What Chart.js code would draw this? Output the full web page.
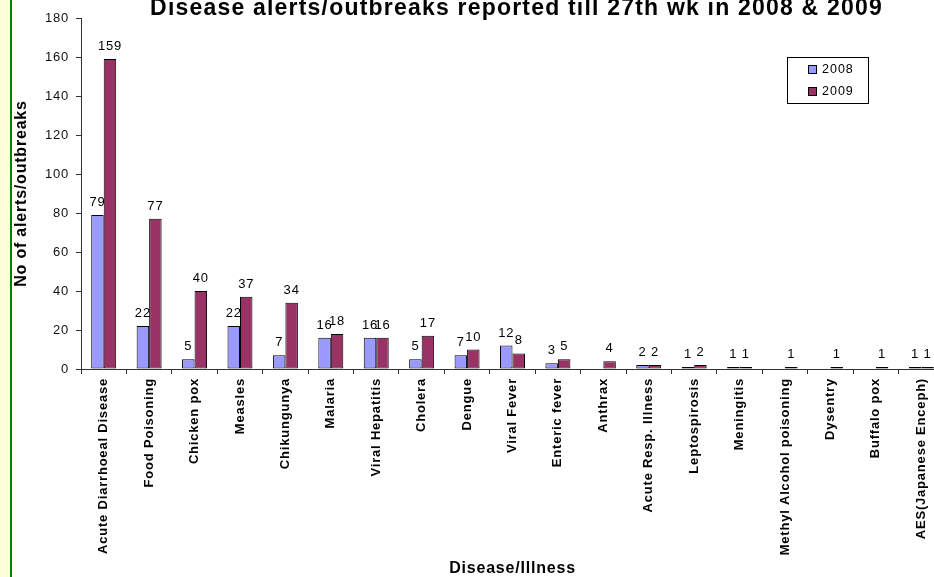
<!DOCTYPE html>
<html lang="en">
<head>
  <meta charset="UTF-8">
  <title>Disease alerts/outbreaks reported till 27th wk in 2008 &amp; 2009</title>
  <style>
    html, body { margin: 0; padding: 0; background: #fff; overflow: hidden; width: 934px; height: 577px; }
    #strip { position: absolute; left: 0; top: 0; width: 10px; height: 577px; background: #ffffdc; border-right: 2px solid #008000; }
    #wrap { position: absolute; left: 12px; top: 0; width: 940px; height: 577px; }
  </style>
</head>
<body>
  <div id="strip"></div>
  <div id="wrap"><canvas id="chart" width="940" height="577"></canvas></div>

  <script src="https://cdn.jsdelivr.net/npm/chart.js"></script>
  <script>
    const chartTitle = 'Disease alerts/outbreaks reported till 27th wk in 2008 & 2009';
    const diseases = [
      'Acute Diarrhoeal Disease', 'Food Poisoning', 'Chicken pox', 'Measles', 'Chikungunya',
      'Malaria', 'Viral Hepatitis', 'Cholera', 'Dengue', 'Viral Fever', 'Enteric fever',
      'Anthrax', 'Acute Resp. Illness', 'Leptospirosis', 'Meningitis',
      'Methyl Alcohol poisoning', 'Dysentry', 'Buffalo pox', 'AES(Japanese Enceph)'
    ];
    const cases2008 = [79, 22, 5, 22, 7, 16, 16, 5, 7, 12, 3, 0, 2, 1, 1, 0, 0, 0, 1];
    const cases2009 = [159, 77, 40, 37, 34, 18, 16, 17, 10, 8, 5, 4, 2, 2, 1, 1, 1, 1, 1];
    const yMin = 0, yMax = 180, yStep = 20;

    const FONT = "'Liberation Sans', Arial, sans-serif";

    // old Excel text renders wider than canvas Arial, so add a bit of spacing
    const spacing = {
      id: 'spacing',
      beforeLayout(chart) { chart.ctx.letterSpacing = '0.8px'; },
      beforeDraw(chart) { chart.ctx.letterSpacing = '0.8px'; }
    };

    const extras = {
      id: 'extras',
      afterDatasetsDraw(chart) {
        const ctx = chart.ctx;
        ctx.save();
        ctx.font = '13px ' + FONT;
        ctx.fillStyle = '#000';
        ctx.textAlign = 'center';
        ctx.textBaseline = 'alphabetic';
        chart.data.datasets.forEach((ds, i) => {
          chart.getDatasetMeta(i).data.forEach((bar, j) => {
            const v = ds.data[j];
            if (!v) return;
            ctx.fillText(String(v), bar.x, bar.y - 9);
          });
        });
        ctx.restore();
      },
      afterDraw(chart) {
        const ctx = chart.ctx;
        const area = chart.chartArea;

        // title, centred over the plot
        ctx.save();
        ctx.letterSpacing = '1.2px';
        ctx.font = 'bold 23px ' + FONT;
        ctx.fillStyle = '#000';
        ctx.textAlign = 'center';
        ctx.textBaseline = 'alphabetic';
        ctx.fillText(chartTitle, (area.left + area.right) / 2 + 4, 15);
        ctx.restore();

        // boxed legend inside the plot, top right
        const bx = area.right - 157, by = area.top + 39, bw = 81, bh = 46;
        ctx.save();
        ctx.fillStyle = '#fff';
        ctx.fillRect(bx, by, bw, bh);
        ctx.strokeStyle = '#000';
        ctx.lineWidth = 1;
        ctx.strokeRect(bx + 0.5, by + 0.5, bw, bh);
        ctx.letterSpacing = '1px';
        ctx.font = '12.5px ' + FONT;
        ctx.textAlign = 'left';
        ctx.textBaseline = 'middle';
        chart.data.datasets.forEach((ds, i) => {
          const cy = by + 12 + i * 22;
          ctx.fillStyle = ds.backgroundColor;
          ctx.fillRect(bx + 21, cy - 4, 9, 9);
          ctx.strokeRect(bx + 21.5, cy - 3.5, 8, 8);
          ctx.fillStyle = '#000';
          ctx.fillText(ds.label, bx + 35, cy + 1);
        });
        ctx.restore();
      }
    };

    new Chart(document.getElementById('chart'), {
      type: 'bar',
      data: {
        labels: diseases,
        datasets: [
          {
            label: '2008',
            data: cases2008,
            backgroundColor: '#9999ff',
            borderColor: '#000',
            borderWidth: 1,
            borderSkipped: false,
            categoryPercentage: 0.55,
            barPercentage: 1
          },
          {
            label: '2009',
            data: cases2009,
            backgroundColor: '#993366',
            borderColor: '#000',
            borderWidth: 1,
            borderSkipped: false,
            categoryPercentage: 0.55,
            barPercentage: 1
          }
        ]
      },
      options: {
        responsive: false,
        animation: false,
        devicePixelRatio: 1,
        layout: { padding: { top: 18, right: 8, left: 0, bottom: 0 } },
        plugins: {
          legend: { display: false },
          title: { display: false },
          tooltip: { enabled: false }
        },
        scales: {
          x: {
            grid: { offset: true, drawOnChartArea: false, drawTicks: true, tickLength: 5, color: '#333' },
            border: { color: '#333', width: 1 },
            ticks: {
              autoSkip: false,
              minRotation: 90,
              maxRotation: 90,
              padding: 4,
              color: '#000',
              font: { family: FONT, size: 13, weight: 'bold' }
            },
            title: {
              display: true,
              text: 'Disease/Illness',
              color: '#000',
              font: { family: FONT, size: 16, weight: 'bold', lineHeight: 1 },
              padding: { top: 0, bottom: 0 }
            },
            afterFit(scale) { scale.height = 208; }
          },
          y: {
            min: yMin,
            max: yMax,
            ticks: {
              stepSize: yStep,
              padding: 7,
              color: '#111',
              font: { family: FONT, size: 13 }
            },
            grid: { drawOnChartArea: false, drawTicks: true, tickLength: 5, color: '#333' },
            border: { color: '#333', width: 1 },
            title: {
              display: true,
              text: 'No of alerts/outbreaks',
              color: '#000',
              font: { family: FONT, size: 16, weight: 'bold' },
              padding: { top: 0, bottom: 0 }
            },
            afterFit(scale) { scale.width = 69; }
          }
        }
      },
      plugins: [spacing, extras]
    });
  </script>
</body>
</html>
